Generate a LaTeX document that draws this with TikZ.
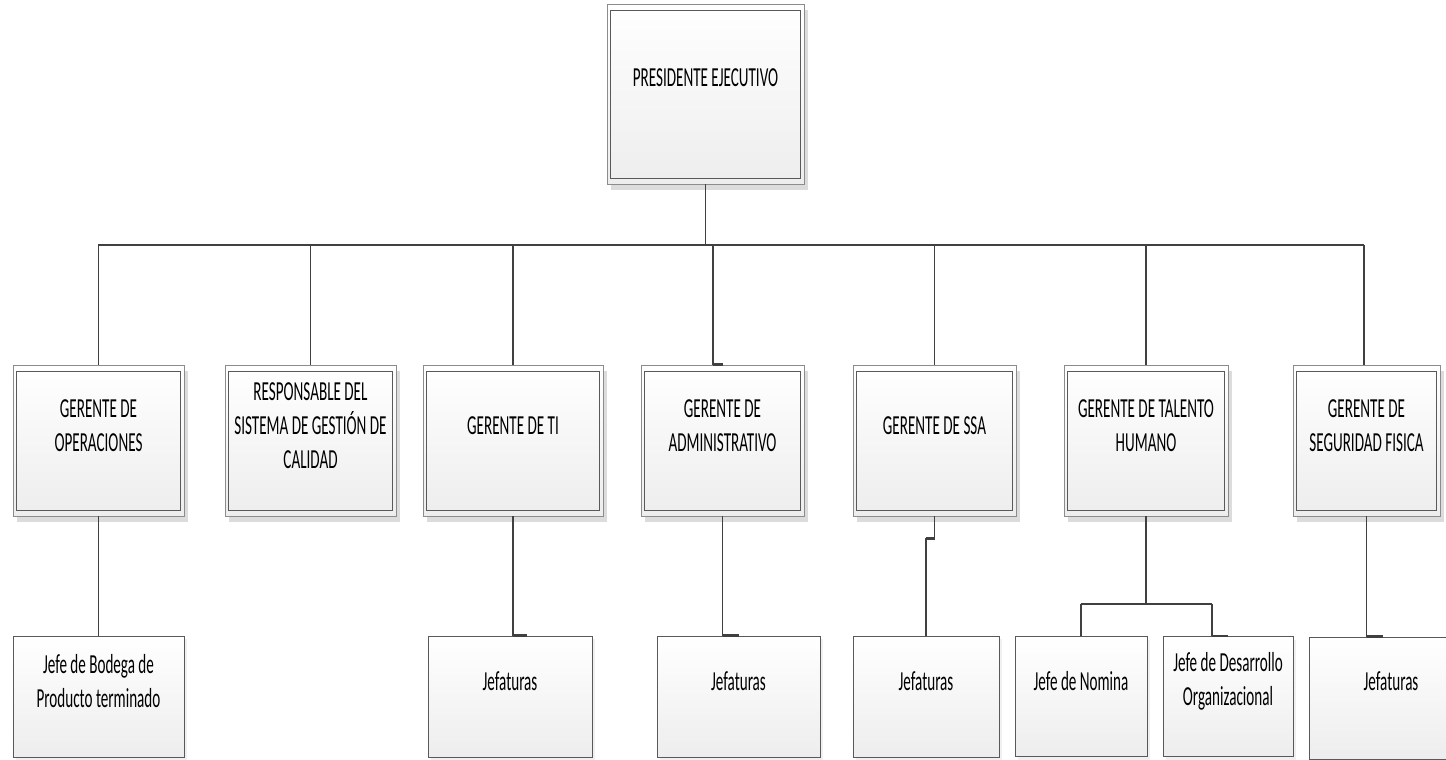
\documentclass[tikz,border=0pt]{standalone}
\usepackage{fontspec}
\setmainfont{Carlito}[FakeStretch=0.55]
\usetikzlibrary{shadows}
\definecolor{edgecol}{HTML}{595959}
\definecolor{framecol}{HTML}{8C8C8C}
\definecolor{wirecol}{HTML}{404040}
\definecolor{shadecol}{HTML}{DCDCDC}
\tikzset{
  boxbase/.style={rectangle, inner sep=0pt, top color=white, bottom color=black!7},
  mgrbox/.style={boxbase, draw=framecol, line width=0.8pt,
    drop shadow={shadow xshift=4pt, shadow yshift=-6pt, fill=shadecol, opacity=1},
    path picture={\draw[edgecol, line width=1pt]
      ([xshift=3.3pt,yshift=-6.5pt]path picture bounding box.north west) rectangle
      ([xshift=-3.3pt,yshift=6pt]path picture bounding box.south east);}},
  subbox/.style={boxbase, draw=edgecol, line width=1pt,
    drop shadow={shadow xshift=3pt, shadow yshift=-3pt, fill=black!6, opacity=1}},
  boxtext/.style={align=center, inner sep=0pt, text=black,
    font=\fontsize{27.5}{34}\selectfont},
  wire/.style={draw=wirecol, line width=1.5pt},
  buswire/.style={draw=wirecol, line width=2.6pt},
  stubwire/.style={draw=wirecol, line width=2.6pt}
}
\begin{document}
\begin{tikzpicture}[x=1pt, y=-1pt]
\useasboundingbox (0,0) rectangle (1446,760);
\clip (0,0) rectangle (1446,760);
\fill[white] (0,0) rectangle (1446,760);

% top box
\node[mgrbox, minimum width=197pt, minimum height=180pt] (pres) at (705.5,94) {};
\node[boxtext] (prest) at (705.5,78) {PRESIDENTE EJECUTIVO};

% managers
\node[mgrbox, minimum width=171pt, minimum height=151pt] (m1) at (98.5,440.5) {};
\node[mgrbox, minimum width=171pt, minimum height=151pt] (m2) at (310.5,440.5) {};
\node[mgrbox, minimum width=180pt, minimum height=151pt] (m3) at (513,440.5) {};
\node[mgrbox, minimum width=163pt, minimum height=151pt] (m4) at (722.5,440.5) {};
\node[mgrbox, minimum width=163pt, minimum height=151pt] (m5) at (934.5,440.5) {};
\node[mgrbox, minimum width=164pt, minimum height=151pt] (m6) at (1146,440.5) {};
\node[mgrbox, minimum width=147pt, minimum height=151pt] (m7) at (1366.5,440.5) {};

\node[boxtext] (m1t) at (98.5,426) {GERENTE DE\\OPERACIONES};
\node[boxtext] (m2t) at (310.5,426) {RESPONSABLE DEL\\SISTEMA DE GESTIÓN DE\\CALIDAD};
\node[boxtext] (m3t) at (513,426) {GERENTE DE TI};
\node[boxtext] (m4t) at (722.5,426) {GERENTE DE\\ADMINISTRATIVO};
\node[boxtext] (m5t) at (934.5,426) {GERENTE DE SSA};
\node[boxtext] (m6t) at (1146,426) {GERENTE DE TALENTO\\HUMANO};
\node[boxtext] (m7t) at (1366.5,426) {GERENTE DE\\SEGURIDAD FISICA};

% sub boxes
\node[subbox, minimum width=171pt, minimum height=121pt] (b1) at (98.5,696.5) {};
\node[subbox, minimum width=164pt, minimum height=121pt] (b3) at (510,696.5) {};
\node[subbox, minimum width=163pt, minimum height=121pt] (b4) at (738.5,696.5) {};
\node[subbox, minimum width=146pt, minimum height=121pt] (b5) at (926,696.5) {};
\node[subbox, minimum width=132pt, minimum height=120pt] (b6a) at (1081,696.5) {};
\node[subbox, minimum width=130pt, minimum height=120pt] (b6b) at (1228,696.5) {};
\node[subbox, minimum width=164pt, minimum height=122pt] (b7) at (1391,698) {};

\node[boxtext] (b1t) at (98.5,681) {Jefe de Bodega de\\Producto terminado};
\node[boxtext] (b3t) at (510,681) {Jefaturas};
\node[boxtext] (b4t) at (738.5,681) {Jefaturas};
\node[boxtext] (b5t) at (926,681) {Jefaturas};
\node[boxtext] (b6at) at (1081,681) {Jefe de Nomina};
\node[boxtext] (b6bt) at (1228,681) {Jefe de Desarrollo\\Organizacional};
\node[boxtext] (b7t) at (1391,681) {Jefaturas};

% bus
\coordinate (busL) at (98,245);
\coordinate (busR) at (1364,245);
\coordinate (hb) at (1146,604);

\draw[wire] (pres.south) -- (pres.south |- busL);
\draw[buswire] (busL) -- (busR);
\draw[wire] (m1.north |- busL) -- (m1.north);
\draw[wire] (m2.north |- busL) -- (m2.north);
\draw[wire] (m3.north |- busL) -- (m3.north);
\draw[wire] ([xshift=-9.5pt]m4.north |- busL) -- ([xshift=-9.5pt]m4.north);
\draw[stubwire] ([xshift=-9.5pt]m4.north) -- (m4.north);
\draw[wire] (m5.north |- busL) -- (m5.north);
\draw[wire] (m6.north |- busL) -- (m6.north);
\draw[wire] ([xshift=-2.5pt]m7.north |- busL) -- ([xshift=-2.5pt]m7.north);

% lower connectors
\draw[wire] (m1.south) -- (b1.north);
\draw[wire] (m3.south) -- (m3.south |- b3.north);
\draw[stubwire] (m3.south |- b3.north) -- ([xshift=14pt]m3.south |- b3.north);
\draw[wire] (m4.south) -- (m4.south |- b4.north);
\draw[stubwire] (m4.south |- b4.north) -- (b4.north);
\draw[wire] (m5.south) -- ++(0,22) coordinate (m5k);
\draw[stubwire] (m5k) -- (b5.north |- m5k);
\draw[wire] (b5.north |- m5k) -- (b5.north);
\draw[wire] (m6.south) -- (hb);
\draw[buswire] ([xshift=-0.5pt]b6a.north |- hb) -- ([xshift=-16pt]b6b.north |- hb);
\draw[wire] (b6a.north |- hb) -- (b6a.north);
\draw[wire] ([xshift=-16pt]b6b.north |- hb) -- ([xshift=-16pt]b6b.north);
\draw[stubwire] ([xshift=-16pt]b6b.north) -- (b6b.north);
\draw[wire] (m7.south) -- (m7.south |- b7.north);
\draw[stubwire] (m7.south |- b7.north) -- ([xshift=-8pt]b7.north);
\end{tikzpicture}
\end{document}
